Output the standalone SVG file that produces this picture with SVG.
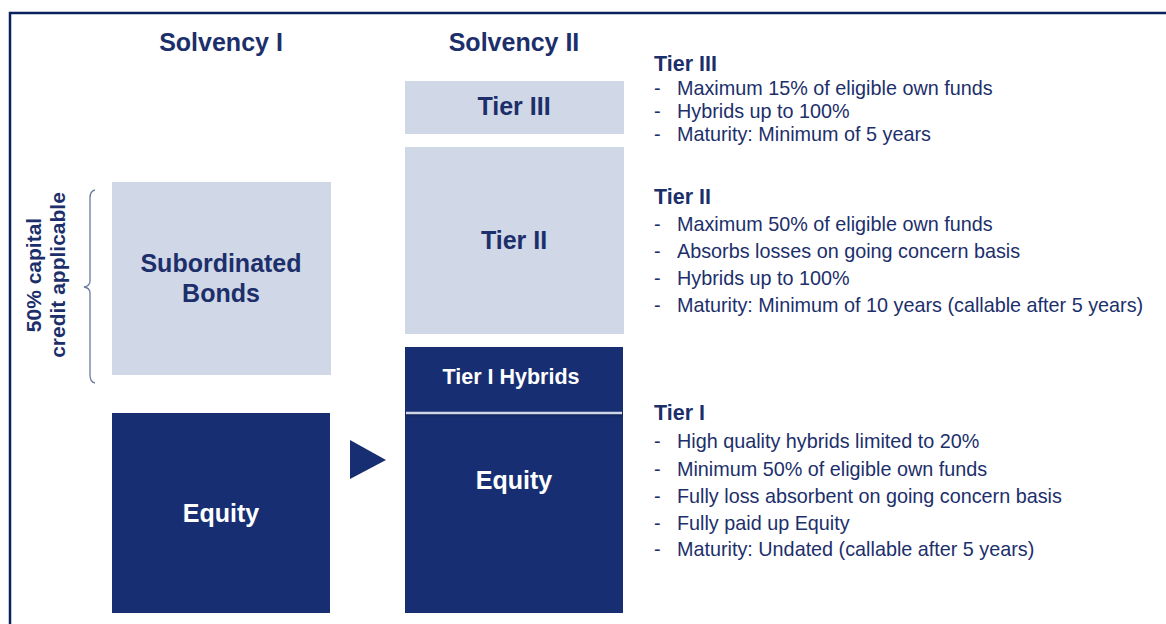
<svg xmlns="http://www.w3.org/2000/svg" width="1166" height="624" viewBox="0 0 1166 624">
  <defs>
    <style>
      .light { fill: #d0d7e6; }
      .navy { fill: #172f72; }
      .hdr { font-family: "Liberation Sans", Arial, sans-serif; font-weight: bold; font-size: 25px; fill: #1c2f6b; text-anchor: middle; }
      .lbl-d { font-family: "Liberation Sans", Arial, sans-serif; font-weight: bold; font-size: 25px; fill: #1c2f6b; text-anchor: middle; }
      .lbl-w { font-family: "Liberation Sans", Arial, sans-serif; font-weight: bold; font-size: 25px; fill: #ffffff; text-anchor: middle; }
      .side { font-family: "Liberation Sans", Arial, sans-serif; font-weight: bold; font-size: 21px; fill: #1c2f6b; text-anchor: middle; }
      .th { font-family: "Liberation Sans", Arial, sans-serif; font-weight: bold; font-size: 21.5px; fill: #1c2f6b; }
      .tb { font-family: "Liberation Sans", Arial, sans-serif; font-size: 19.8px; fill: #1c2f6b; }
    </style>
    <linearGradient id="shade" x1="0" y1="0" x2="0" y2="1">
      <stop offset="0" stop-color="#0a1a48" stop-opacity="0.7"/>
      <stop offset="1" stop-color="#172f72" stop-opacity="0"/>
    </linearGradient>
  </defs>

  <rect width="1166" height="624" fill="#ffffff"/>

  <!-- frame -->
  <path d="M10,624 V13 H1166" fill="none" stroke="#0b215e" stroke-width="2.5"/>

  <!-- column headings -->
  <text class="hdr" x="221" y="51">Solvency I</text>
  <text class="hdr" x="514" y="51">Solvency II</text>

  <!-- Solvency I column -->
  <g id="sub-bonds">
    <rect class="light" x="112" y="182" width="219" height="193"/>
    <text class="lbl-d" x="221" y="272">Subordinated</text>
    <text class="lbl-d" x="221" y="302">Bonds</text>
  </g>
  <g id="equity-1">
    <rect class="navy" x="112" y="413" width="218" height="200"/>
    <text class="lbl-w" x="221" y="522">Equity</text>
  </g>

  <!-- capital credit note -->
  <g id="credit-note">
    <path d="M95,190 Q90,191 90,198 V281 Q90,286 84,287 Q90,288 90,293 V375 Q90,382 95,383" fill="none" stroke="#6a7aa0" stroke-width="1.3"/>
    <text class="side" transform="translate(41,275) rotate(-90)">50% capital</text>
    <text class="side" transform="translate(65,275) rotate(-90)">credit applicable</text>
  </g>

  <!-- transition arrow -->
  <g id="connectors">
    <polygon class="navy" points="350,440 386,460 350,479"/>
  </g>

  <!-- Solvency II column -->
  <g id="tier3">
    <rect class="light" x="405" y="81" width="219" height="53"/>
    <text class="lbl-d" x="514" y="115">Tier III</text>
  </g>
  <g id="tier2">
    <rect class="light" x="405" y="147" width="219" height="187"/>
    <text class="lbl-d" x="514" y="249">Tier II</text>
  </g>
  <g id="tier1-hybrids">
    <rect class="navy" x="405" y="347" width="218" height="65"/>
    <text class="lbl-w" x="511" y="384" style="font-size:21.5px">Tier I Hybrids</text>
  </g>
  <g id="equity-2">
    <rect class="navy" x="405" y="412" width="218" height="201"/>
    <rect x="405" y="414" width="218" height="5" fill="url(#shade)"/>
    <line x1="406" y1="413" x2="622" y2="413" stroke="#d0d7e6" stroke-width="2.5"/>
    <text class="lbl-w" x="514" y="489">Equity</text>
  </g>

  <!-- tier descriptions -->
  <g id="desc-tier3">
    <text class="th" x="654" y="71">Tier III</text>
    <text class="tb" x="654" y="95">-</text><text class="tb" x="677" y="95">Maximum 15% of eligible own funds</text>
    <text class="tb" x="654" y="118">-</text><text class="tb" x="677" y="118">Hybrids up to 100%</text>
    <text class="tb" x="654" y="141">-</text><text class="tb" x="677" y="141">Maturity: Minimum of 5 years</text>
  </g>
  <g id="desc-tier2">
    <text class="th" x="654" y="204">Tier II</text>
    <text class="tb" x="654" y="231">-</text><text class="tb" x="677" y="231">Maximum 50% of eligible own funds</text>
    <text class="tb" x="654" y="258">-</text><text class="tb" x="677" y="258">Absorbs losses on going concern basis</text>
    <text class="tb" x="654" y="285">-</text><text class="tb" x="677" y="285">Hybrids up to 100%</text>
    <text class="tb" x="654" y="312">-</text><text class="tb" x="677" y="312">Maturity: Minimum of 10 years (callable after 5 years)</text>
  </g>
  <g id="desc-tier1">
    <text class="th" x="654" y="420">Tier I</text>
    <text class="tb" x="654" y="448">-</text><text class="tb" x="677" y="448">High quality hybrids limited to 20%</text>
    <text class="tb" x="654" y="476">-</text><text class="tb" x="677" y="476">Minimum 50% of eligible own funds</text>
    <text class="tb" x="654" y="503">-</text><text class="tb" x="677" y="503">Fully loss absorbent on going concern basis</text>
    <text class="tb" x="654" y="530">-</text><text class="tb" x="677" y="530">Fully paid up Equity</text>
    <text class="tb" x="654" y="556">-</text><text class="tb" x="677" y="556">Maturity: Undated (callable after 5 years)</text>
  </g>
</svg>
